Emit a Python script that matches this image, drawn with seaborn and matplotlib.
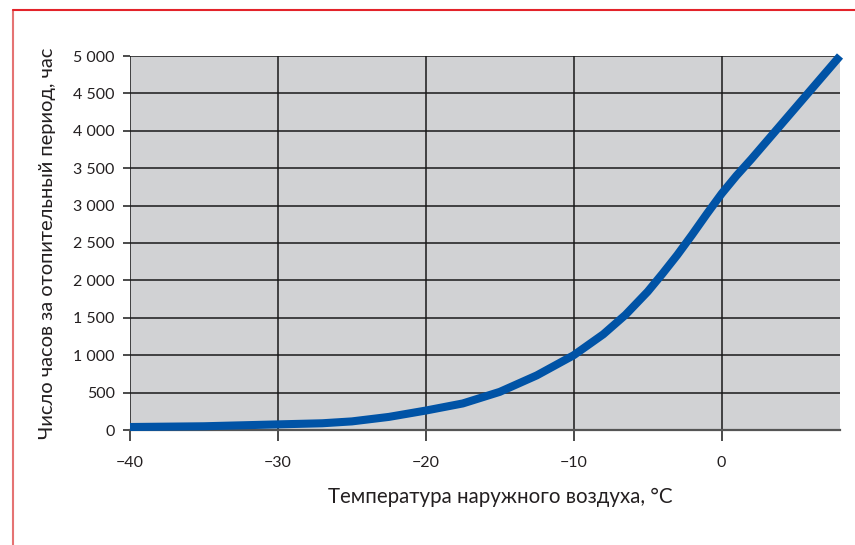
import matplotlib
matplotlib.use("Agg")
import matplotlib.pyplot as plt
from matplotlib.lines import Line2D
from matplotlib.ticker import FuncFormatter, MultipleLocator
import pandas as pd
import seaborn as sns

# ── Data ──────────────────────────────────────────────────────────────────────
temperature = [-40, -35, -30, -27, -25, -22.5, -20, -17.5, -15, -12.5, -10,
               -8, -6.5, -5, -4, -3, -2, -1, 0, 1, 2, 4, 6, 8]
hours = [40, 50, 75, 90, 115, 175, 260, 355, 510, 730, 1000,
         1280, 1540, 1850, 2090, 2340, 2610, 2890, 3160, 3400, 3620, 4080, 4540, 5000]

x_label = "Температура наружного воздуха, °C"
y_label = "Число часов за отопительный период, час"

df = pd.DataFrame({"t": temperature, "h": hours})

sns.set_style("ticks")
plt.rcParams["font.family"] = ["Lato", "DejaVu Sans"]

fig = plt.figure(figsize=(8.55, 5.45), dpi=100)
ax = fig.add_axes([130 / 855, 1 - 430 / 545, 710 / 855, 374 / 545])
ax.set_facecolor("#d1d2d4")

sns.lineplot(data=df, x="t", y="h", ax=ax, color="#0053a6", lw=5.8,
             solid_capstyle="butt", solid_joinstyle="round", clip_on=False, zorder=5)

ax.set_xlim(-40, 8)
ax.set_ylim(0, 5000)
ax.xaxis.set_major_locator(MultipleLocator(10))
ax.yaxis.set_major_locator(MultipleLocator(500))
ax.xaxis.set_major_formatter(FuncFormatter(lambda v, p: f"{v:.0f}".replace("-", "\u2212")))
ax.yaxis.set_major_formatter(FuncFormatter(lambda v, p: f"{v:,.0f}".replace(",", " ")))

ax.grid(True, color="#1a1a1a", lw=1.1)
ax.set_axisbelow(True)
for side in ["top", "right", "left"]:
    ax.spines[side].set_visible(False)
ax.spines["bottom"].set_color("#555555")
ax.spines["bottom"].set_linewidth(1.6)

ax.tick_params(axis="y", length=5, width=1.1, color="#1a1a1a", pad=6,
               labelsize=11.5, labelcolor="#231f20")
ax.tick_params(axis="x", length=8, width=1.1, color="#1a1a1a", pad=11,
               labelsize=11.5, labelcolor="#231f20")

ax.set_xlabel(x_label, fontsize=14.8, color="#231f20", labelpad=12)
ax.xaxis.label.set_x(0.522)
ax.set_ylabel(y_label, fontsize=14.5, color="#231f20", labelpad=12)

# red frame around the figure (left + top)
fig.add_artist(Line2D([13 / 855, 13 / 855], [0, 1 - 10 / 545],
                      transform=fig.transFigure, color="#e57373", lw=1.5))
fig.add_artist(Line2D([13 / 855, 1], [1 - 10 / 545, 1 - 10 / 545],
                      transform=fig.transFigure, color="#e3232a", lw=1.5))

plt.savefig("out.png", dpi=100)
plt.close()
